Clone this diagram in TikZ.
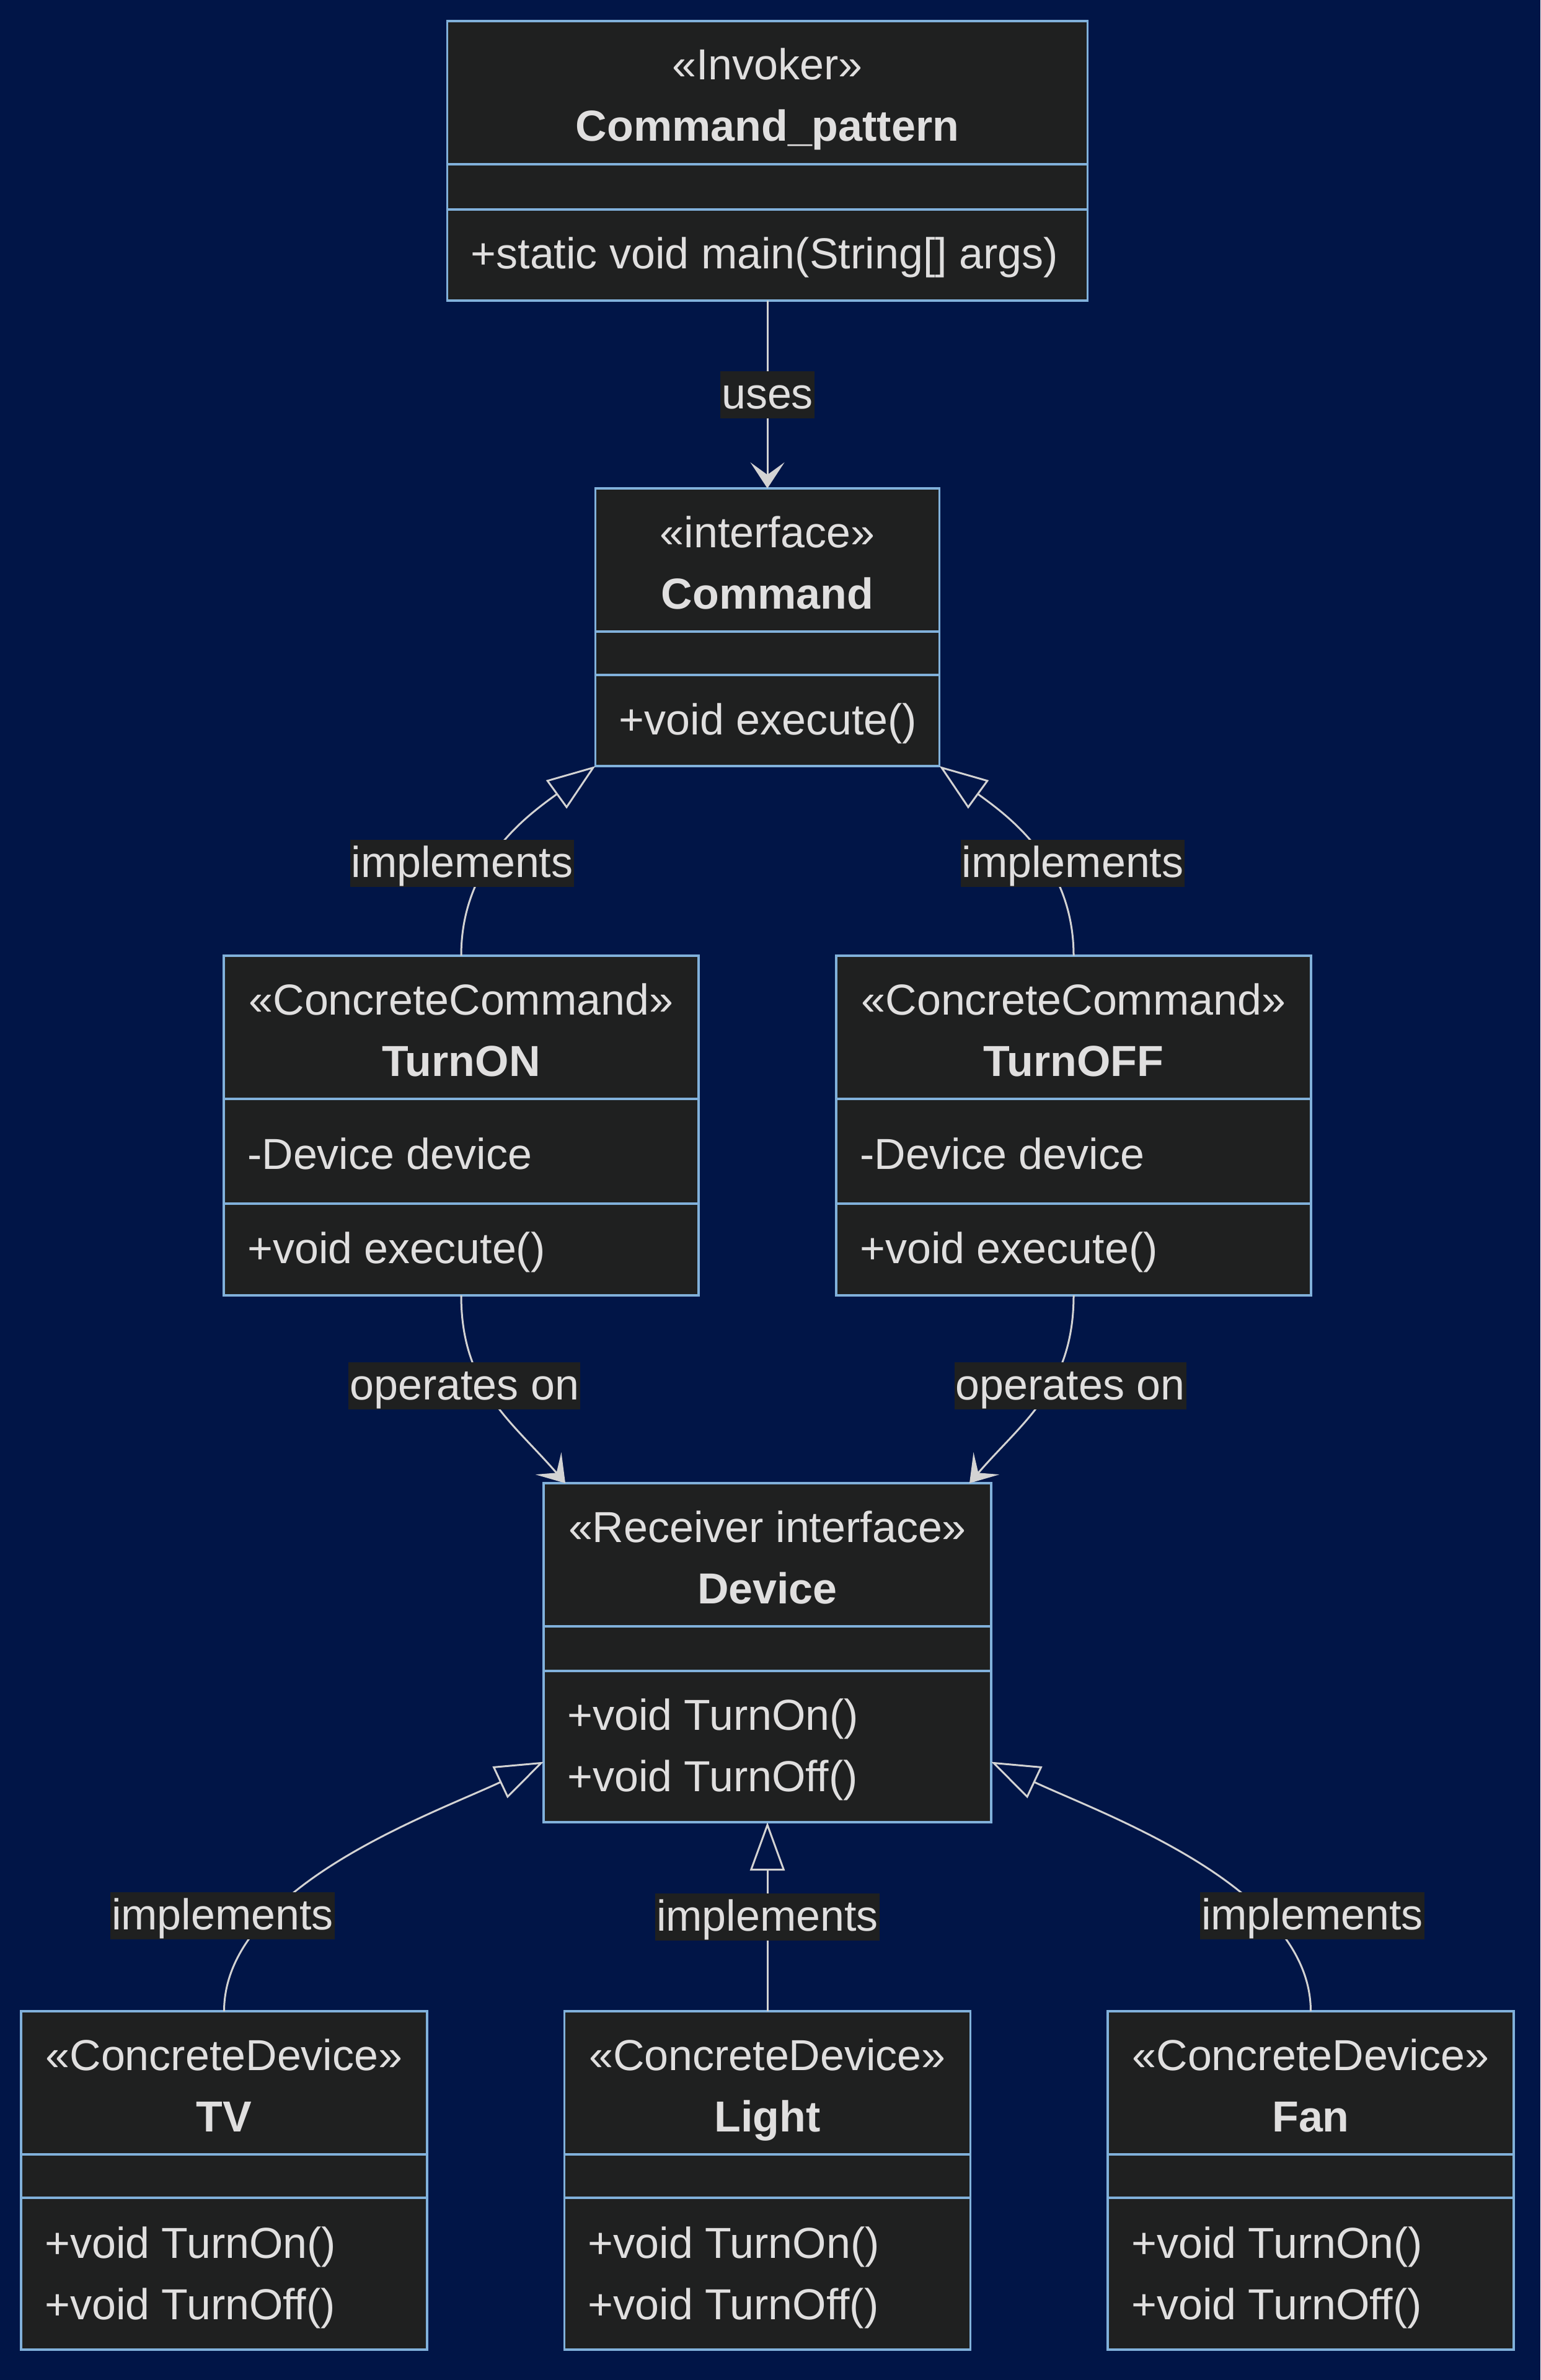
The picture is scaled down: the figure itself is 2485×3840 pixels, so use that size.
\documentclass[tikz,border=0pt]{standalone}
\usepackage{fontspec}
\setmainfont{Liberation Sans}
\usetikzlibrary{arrows.meta}
\definecolor{pagebg}{HTML}{011547}
\definecolor{boxbg}{HTML}{1F2020}
\definecolor{boxline}{HTML}{81B1DB}
\definecolor{ink}{HTML}{E0DFDF}
\definecolor{wire}{HTML}{D3D3D3}
\newcommand{\bigtext}{\fontsize{70pt}{84pt}\selectfont}
% class box: name, centre x, top y, width, height, second rule, stereotype, class name
\newcommand{\umlclass}[8]{%
  \node[cls, minimum width=#4pt, minimum height=#5pt] (#1) at (#2,#3) {};
  \node[txt, anchor=base] (#1-st) at ([yshift=-95pt]#1.north) {«#7»};
  \node[txt, font=\bigtext\bfseries, anchor=base] (#1-nm) at ([yshift=-194pt]#1.north) {#8};
  \draw[divider] ([yshift=-231pt]#1.north west) -- ([yshift=-231pt]#1.north east);
  \draw[divider] ([yshift=-#6pt]#1.north west) -- ([yshift=-#6pt]#1.north east);
}
% one member line: node name, box, baseline below top, text
\newcommand{\umlmember}[4]{%
  \node[txt, anchor=base west] (#1) at ([xshift=38pt,yshift=-#3pt]#2.north west) {#4};
}
\begin{document}
\begin{tikzpicture}[x=1pt, y=-1pt,
  cls/.style={draw=boxline, fill=boxbg, line width=3.5pt, inner sep=0pt, outer sep=0pt, anchor=north},
  divider/.style={draw=boxline, line width=3.5pt},
  txt/.style={text=ink, font=\bigtext, inner sep=0pt},
  lbl/.style={fill=boxbg, text=ink, font=\bigtext, inner xsep=2pt, inner ysep=2pt, text height=59pt, text depth=13pt},
  dep/.style={draw=wire, line width=3pt, -{Stealth[length=42pt, width=55pt, inset=20pt]}},
  realize/.style={draw=wire, line width=3pt, -{Triangle[open, length=78pt, width=56pt]}}]
\fill[pagebg] (0,0) rectangle (2485,3840);
\useasboundingbox (0,0) rectangle (2485,3840);

% invoker and command
\umlclass{cp}{1238}{34}{1033}{451}{304}{Invoker}{Command\_pattern}
\umlmember{cp-m1}{cp}{399}{+static void main(String[] args)}
\umlclass{cmd}{1238}{788}{555}{448}{301}{interface}{Command}
\umlmember{cmd-m1}{cmd}{397}{+void execute()}

% concrete commands
\umlclass{ton}{744}{1542}{766}{548}{400}{ConcreteCommand}{TurnON}
\umlmember{ton-a1}{ton}{344}{-Device device}
\umlmember{ton-m1}{ton}{496}{+void execute()}
\umlclass{tof}{1732}{1542}{766}{548}{400}{ConcreteCommand}{TurnOFF}
\umlmember{tof-a1}{tof}{344}{-Device device}
\umlmember{tof-m1}{tof}{496}{+void execute()}

% receiver
\umlclass{dev}{1238}{2393}{722}{547}{303}{Receiver interface}{Device}
\umlmember{dev-m1}{dev}{398}{+void TurnOn()}
\umlmember{dev-m2}{dev}{497}{+void TurnOff()}

% concrete devices
\umlclass{tv}{361.5}{3245}{655}{546}{301}{ConcreteDevice}{TV}
\umlmember{tv-m1}{tv}{398}{+void TurnOn()}
\umlmember{tv-m2}{tv}{497}{+void TurnOff()}
\umlclass{light}{1238}{3245}{655}{546}{301}{ConcreteDevice}{Light}
\umlmember{light-m1}{light}{398}{+void TurnOn()}
\umlmember{light-m2}{light}{497}{+void TurnOff()}
\umlclass{fan}{2114.5}{3245}{655}{546}{301}{ConcreteDevice}{Fan}
\umlmember{fan-m1}{fan}{398}{+void TurnOn()}
\umlmember{fan-m2}{fan}{497}{+void TurnOff()}

% relations
\draw[dep] (cp) -- node[lbl] (l-uses) {uses} (cmd);
\draw[realize] (ton.north) .. controls +(0,-150) and +(-110,80) .. (cmd.south west)
  node[lbl, pos=0.4, xshift=-43pt] (l-impl1) {implements};
\draw[realize] (tof.north) .. controls +(0,-150) and +(110,80) .. (cmd.south east)
  node[lbl, pos=0.4, xshift=43pt] (l-impl2) {implements};
\draw[dep] (ton.south) .. controls +(0,150) and +(-85,-99) .. (dev.140)
  node[lbl, pos=0.41, xshift=-31pt] (l-op1) {operates on};
\draw[dep] (tof.south) .. controls +(0,150) and +(85,-99) .. (dev.40)
  node[lbl, pos=0.41, xshift=31pt] (l-op2) {operates on};
\draw[realize] (tv.north) .. controls +(0,-200) and +(-181,85) .. (dev.206)
  node[lbl, pos=0.29, xshift=-75pt] (l-impl3) {implements};
\draw[realize] (light) -- node[lbl] (l-impl4) {implements} (dev);
\draw[realize] (fan.north) .. controls +(0,-200) and +(181,85) .. (dev.334)
  node[lbl, pos=0.29, xshift=75pt] (l-impl5) {implements};
\end{tikzpicture}
\end{document}
